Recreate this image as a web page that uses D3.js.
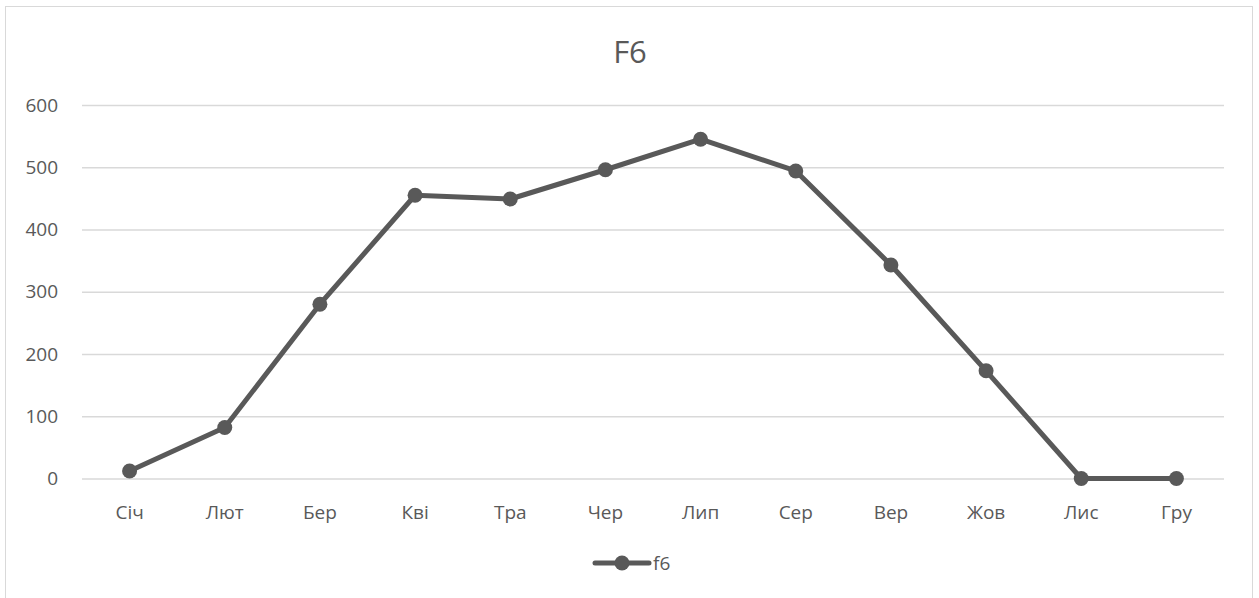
<!DOCTYPE html>
<html>
<head>
<meta charset="utf-8">
<script src="https://cdn.jsdelivr.net/npm/d3@7"></script>
<style>
  html, body { margin: 0; padding: 0; background: #fff; }
  svg { display: block; font-family: "Open Sans", "Noto Sans", sans-serif; }
</style>
</head>
<body>
<svg id="chart" width="1259" height="598"></svg>
<script>
// Monthly values of series f6
const months = ["Січ", "Лют", "Бер", "Кві", "Тра", "Чер", "Лип", "Сер", "Вер", "Жов", "Лис", "Гру"];
const f6 = [12, 82, 280, 455, 449, 496, 545, 494, 343, 173, 0, 0];
const yTicks = [0, 100, 200, 300, 400, 500, 600];
const seriesName = "f6";
const title = "F6";

const svg = d3.select("#chart");
const ink = "#595959", grid = "#d9d9d9";
const font = "Open Sans, Noto Sans, sans-serif";
const labelSize = 19;

// outer chart frame
svg.append("rect")
  .attr("x", 5.5).attr("y", 6.5)
  .attr("width", 1247).attr("height", 600)
  .attr("fill", "#fff").attr("stroke", grid).attr("stroke-width", 1);

const plot = { left: 82, right: 1224, top: 105, bottom: 478.5 };

const x = d3.scaleBand().domain(months).range([plot.left, plot.right]);
const y = d3.scaleLinear().domain([0, 600]).range([plot.bottom, plot.top]);

// title
svg.append("text")
  .attr("x", 630).attr("y", 62.5)
  .attr("text-anchor", "middle")
  .attr("fill", ink).attr("font-size", 31)
  .text(title);

// gridlines + y labels
const yAxis = d3.axisLeft(y).tickValues(yTicks).tickSize(-(plot.right - plot.left)).tickPadding(24);
const gy = svg.append("g").attr("transform", `translate(${plot.left},0)`).call(yAxis);
gy.select(".domain").remove();
gy.selectAll(".tick line").attr("stroke", grid).attr("stroke-width", 1.3);
gy.selectAll(".tick text").attr("fill", ink).attr("font-size", labelSize).attr("font-family", font);

// x labels
const xAxis = d3.axisBottom(x).tickSize(0).tickPadding(27);
const gx = svg.append("g").attr("transform", `translate(0,${plot.bottom})`).call(xAxis);
gx.select(".domain").remove();
gx.selectAll(".tick text").attr("fill", ink).attr("font-size", labelSize).attr("font-family", font);

const cx = d => x(d) + x.bandwidth() / 2;

// series line
const line = d3.line().x((d, i) => cx(months[i])).y(d => y(d));
svg.append("path")
  .datum(f6)
  .attr("d", line)
  .attr("fill", "none")
  .attr("stroke", ink).attr("stroke-width", 5)
  .attr("stroke-linejoin", "round");

svg.append("g").selectAll("circle")
  .data(f6)
  .join("circle")
  .attr("cx", (d, i) => cx(months[i]))
  .attr("cy", d => y(d))
  .attr("r", 7.5)
  .attr("fill", ink);

// legend
const lg = svg.append("g").attr("transform", "translate(595,563)");
lg.append("line").attr("x1", 0).attr("x2", 54).attr("y1", 0).attr("y2", 0)
  .attr("stroke", ink).attr("stroke-width", 5).attr("stroke-linecap", "round");
lg.append("circle").attr("cx", 27).attr("cy", 0).attr("r", 7.5).attr("fill", ink);
lg.append("text").attr("x", 58).attr("y", 0).attr("dy", "0.36em")
  .attr("fill", ink).attr("font-size", labelSize).attr("font-family", font).text(seriesName);
</script>
</body>
</html>
